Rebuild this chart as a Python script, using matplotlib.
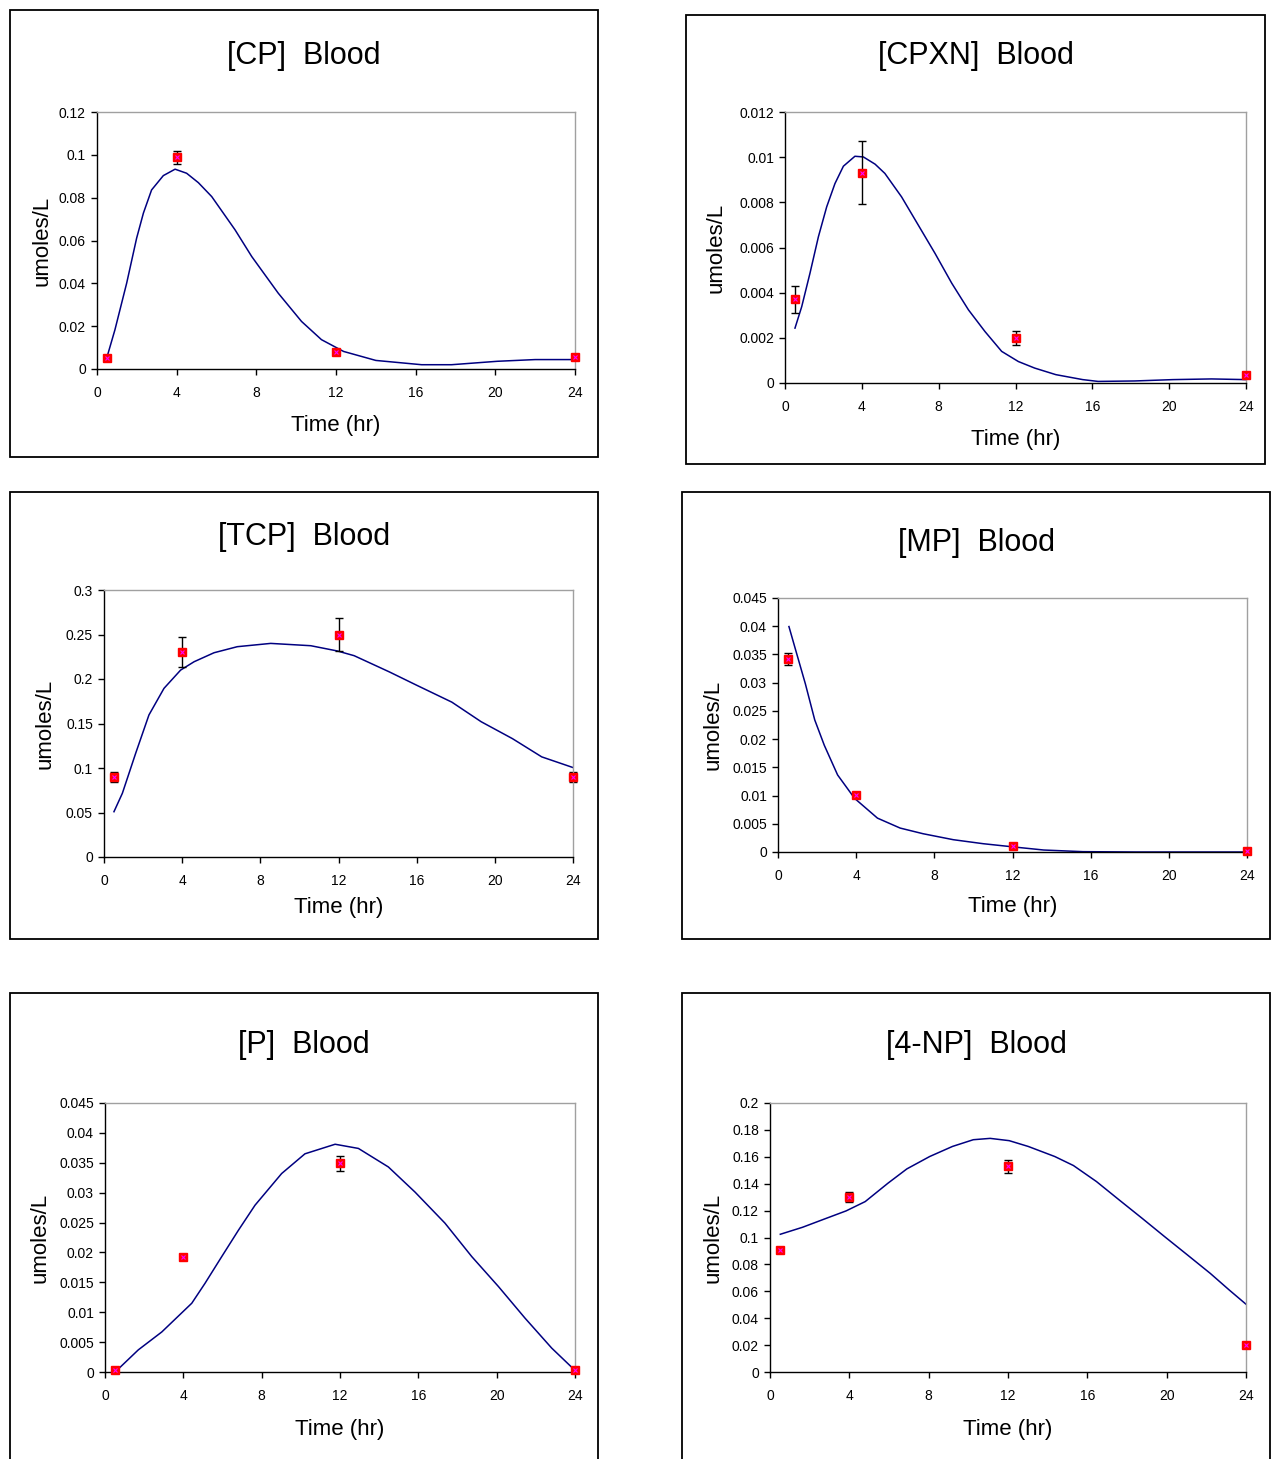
import matplotlib
matplotlib.use('Agg')
import matplotlib.pyplot as plt
from matplotlib.patches import Rectangle
import matplotlib.ticker as ticker

plt.rcParams['font.family'] = ['Liberation Sans', 'DejaVu Sans']

W, H = 1275, 1459

# observed time points (hr)
obs_t = [0.5, 4, 12, 24]

# --- [CP] ---
cp_obs = [0.0051, 0.0989, 0.0079, 0.0056]
cp_err = [0.0, 0.003, 0.0, 0.0]
cp_fit_t = [0.5, 0.9, 1.49, 1.99, 2.33, 2.74, 3.33, 3.92, 4.5, 5.09, 5.76, 6.93, 7.77, 9.1, 10.27,
            11.27, 12.38, 14.0, 16.3, 17.8, 20.1, 22.0, 24.0]
cp_fit = [0.0055, 0.0183, 0.0401, 0.0611, 0.0728, 0.0836, 0.0903, 0.0933, 0.0914, 0.087, 0.0805,
          0.065, 0.0525, 0.0354, 0.0222, 0.0137, 0.0082, 0.004, 0.002, 0.002, 0.0036, 0.0044, 0.0044]

# --- [CPXN] ---
cpxn_obs = [0.00371, 0.00932, 0.00199, 0.00034]
cpxn_err = [0.0006, 0.0014, 0.0003, 0.0]
cpxn_fit_t = [0.52, 0.87, 1.3, 1.74, 2.17, 2.6, 3.04, 3.64, 4.08, 4.69, 5.2, 6.07, 6.94, 7.81,
              8.68, 9.55, 10.41, 11.28, 12.15, 13.0, 14.1, 15.5, 16.3, 18.2, 20.2, 22.2, 24.0]
cpxn_fit = [0.00243, 0.00338, 0.00486, 0.00648, 0.0078, 0.00883, 0.0096, 0.01004, 0.01001,
            0.00969, 0.00928, 0.00824, 0.00699, 0.00574, 0.00442, 0.00324, 0.00228, 0.0014,
            0.00095, 0.00066, 0.00037, 0.00015, 0.00007, 0.00009, 0.00015, 0.00018, 0.00015]

# --- [TCP] ---
tcp_obs = [0.09, 0.23, 0.25, 0.09]
tcp_err = [0.006, 0.017, 0.018, 0.006]
tcp_fit_t = [0.51, 0.94, 1.62, 2.3, 3.07, 3.92, 4.61, 5.63, 6.82, 8.53, 10.58, 11.94, 12.8, 14.6,
             16.0, 17.8, 19.3, 20.9, 22.4, 24.0]
tcp_fit = [0.0509, 0.0716, 0.1165, 0.1596, 0.1895, 0.21, 0.2194, 0.2295, 0.2363, 0.24, 0.2374,
           0.2315, 0.2262, 0.208, 0.193, 0.174, 0.152, 0.133, 0.1125, 0.1005]

# --- [MP] ---
mp_obs = [0.0342, 0.01006, 0.001, 0.0001]
mp_err = [0.001, 0.0, 0.0, 0.0]
mp_fit_t = [0.56, 0.91, 1.4, 1.88, 2.37, 3.05, 3.92, 5.09, 6.25, 7.42, 8.97, 10.5, 12.1, 13.6,
            15.6, 18.3, 24.0]
mp_fit = [0.03994, 0.0357, 0.0298, 0.0234, 0.0189, 0.01365, 0.0095, 0.006, 0.00424, 0.00324,
          0.00218, 0.00147, 0.00088, 0.00035, 0.00006, 0.0, 0.0]

# --- [P] ---
p_obs = [0.0003, 0.0193, 0.0349, 0.0003]
p_err = [0.0, 0.0, 0.0012, 0.0]
p_fit_t = [0.55, 1.7, 2.9, 4.43, 5.1, 5.96, 6.81, 7.66, 9.02, 10.21, 11.75, 12.94, 14.47, 15.83,
           17.36, 18.73, 20.09, 21.45, 22.81, 23.83, 24.0]
p_fit = [0.0001, 0.0037, 0.0067, 0.0115, 0.0148, 0.0193, 0.0237, 0.0279, 0.0332, 0.0365, 0.0381,
         0.0374, 0.0343, 0.0301, 0.0249, 0.0193, 0.0143, 0.009, 0.004, 0.0008, 0.0003]

# --- [4-NP] ---
np4_obs = [0.0904, 0.1302, 0.1528, 0.0204]
np4_err = [0.0, 0.004, 0.0046, 0.0]
np4_fit_t = [0.52, 1.64, 2.7, 3.84, 4.8, 5.95, 6.9, 8.05, 9.2, 10.25, 11.1, 12.06, 13.02, 14.36,
             15.3, 16.46, 17.6, 18.76, 19.9, 21.05, 22.2, 23.16, 24.0]
np4_fit = [0.1024, 0.1076, 0.1135, 0.1198, 0.1267, 0.1404, 0.151, 0.1602, 0.1677, 0.1727, 0.1737,
           0.172, 0.1677, 0.1602, 0.1535, 0.1416, 0.128, 0.1143, 0.1006, 0.087, 0.0733, 0.0609,
           0.0504]

# panel layout in pixels: frame (l, t, r, b), axes (l, t, r, b), title y, ylabel x, xlabel y
panels = [
    dict(title='[CP]  Blood', obs=cp_obs, err=cp_err, ft=cp_fit_t, fit=cp_fit,
         ymax=0.12, ystep=0.02, frame=(10, 10, 598, 457), ax=(97, 112, 575, 369),
         ty=56, lx=42, xly=425),
    dict(title='[CPXN]  Blood', obs=cpxn_obs, err=cpxn_err, ft=cpxn_fit_t, fit=cpxn_fit,
         ymax=0.012, ystep=0.002, frame=(686, 15, 1265, 464), ax=(785, 112, 1246, 383),
         ty=56, lx=716, xly=439),
    dict(title='[TCP]  Blood', obs=tcp_obs, err=tcp_err, ft=tcp_fit_t, fit=tcp_fit,
         ymax=0.3, ystep=0.05, frame=(10, 492, 598, 939), ax=(104, 590, 573, 857),
         ty=537, lx=45, xly=908),
    dict(title='[MP]  Blood', obs=mp_obs, err=mp_err, ft=mp_fit_t, fit=mp_fit,
         ymax=0.045, ystep=0.005, frame=(682, 492, 1270, 939), ax=(778, 598, 1247, 852),
         ty=543, lx=713, xly=907),
    dict(title='[P]  Blood', obs=p_obs, err=p_err, ft=p_fit_t, fit=p_fit,
         ymax=0.045, ystep=0.005, frame=(10, 993, 598, 1470), ax=(105, 1103, 575, 1372),
         ty=1045, lx=40, xly=1430),
    dict(title='[4-NP]  Blood', obs=np4_obs, err=np4_err, ft=np4_fit_t, fit=np4_fit,
         ymax=0.2, ystep=0.02, frame=(682, 993, 1270, 1470), ax=(770, 1103, 1246, 1372),
         ty=1045, lx=713, xly=1430),
]

fig = plt.figure(figsize=(W / 100, H / 100), dpi=100)


def fx(x):
    return x / W


def fy(y):
    return 1 - y / H


for p in panels:
    l, t, r, b = p['frame']
    fig.patches.append(Rectangle((fx(l), fy(b)), fx(r - l), (b - t) / H, transform=fig.transFigure,
                                 fill=False, edgecolor='black', linewidth=1.3))
    fig.text(fx((l + r) / 2), fy(p['ty']), p['title'], ha='center', va='center', fontsize=22)

    al, at, ar, ab = p['ax']
    ax = fig.add_axes([fx(al), fy(ab), fx(ar - al), (ab - at) / H])
    ax.plot(p['ft'], p['fit'], color='#000080', linewidth=1.1, clip_on=False)
    ax.errorbar(obs_t, p['obs'], yerr=p['err'], fmt='none', ecolor='black', elinewidth=1,
                capsize=3, capthick=1, clip_on=False)
    ax.plot(obs_t, p['obs'], linestyle='none', marker='s', markersize=6, color='#ff0000',
            markeredgecolor='#ff0000', clip_on=False, zorder=5)
    ax.plot(obs_t, p['obs'], linestyle='none', marker='x', markersize=3, color='#ff00ff',
            markeredgewidth=0.8, clip_on=False, zorder=6)

    ax.set_xlim(0, 24)
    ax.set_ylim(0, p['ymax'])
    ax.xaxis.set_major_locator(ticker.MultipleLocator(4))
    ax.yaxis.set_major_locator(ticker.MultipleLocator(p['ystep']))
    ax.yaxis.set_major_formatter(ticker.FuncFormatter(lambda v, pos: '%g' % round(v, 6)))
    ax.tick_params(direction='out', length=4, width=1, labelsize=10)
    ax.tick_params(axis='x', pad=8)
    ax.tick_params(axis='y', pad=4)
    for side in ('top', 'right'):
        ax.spines[side].set_color('#a0a0a0')
        ax.spines[side].set_linewidth(1)
    for side in ('left', 'bottom'):
        ax.spines[side].set_color('black')
        ax.spines[side].set_linewidth(1)

    ax.set_ylabel('umoles/L', fontsize=16)
    ax.yaxis.set_label_coords((p['lx'] - al) / (ar - al), 0.5)
    ax.set_xlabel('Time (hr)', fontsize=16)
    ax.xaxis.set_label_coords(0.5, -(p['xly'] - ab) / (ab - at))
    ax.yaxis.label.set_va('center')
    ax.xaxis.label.set_va('center')

fig.savefig('out.png', dpi=100)
